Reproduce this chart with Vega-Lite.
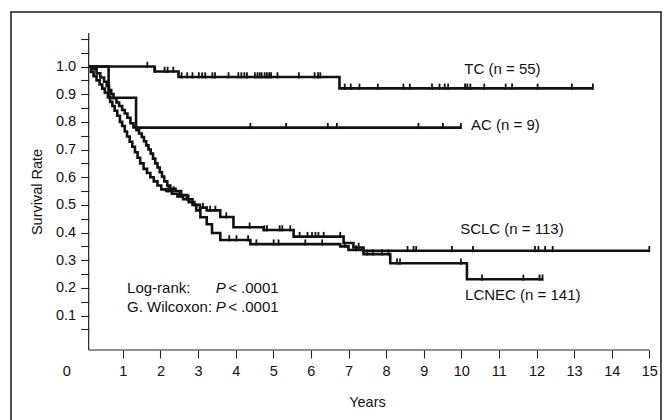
{
  "$schema": "https://vega.github.io/schema/vega-lite/v6.json",
  "width": 650,
  "height": 420,
  "autosize": {"type": "none"},
  "padding": {"left": 11, "top": 12, "right": 8, "bottom": 0},
  "background": "white",
  "config": {
    "view": {"stroke": "#1a1a1a", "strokeWidth": 1.5},
    "font": "Liberation Sans"
  },
  "datasets": {
    "curves": [
      {"group": "TC", "t": 0.1, "s": 1.0},
      {"group": "TC", "t": 1.84, "s": 0.982},
      {"group": "TC", "t": 2.48, "s": 0.962},
      {"group": "TC", "t": 6.76, "s": 0.921},
      {"group": "TC", "t": 13.5, "s": 0.921},
      {"group": "AC", "t": 0.1, "s": 1.0},
      {"group": "AC", "t": 0.62, "s": 0.887},
      {"group": "AC", "t": 1.35, "s": 0.779},
      {"group": "AC", "t": 10.0, "s": 0.779},
      {"group": "SCLC", "t": 0.1, "s": 1.0},
      {"group": "SCLC", "t": 0.15, "s": 0.98},
      {"group": "SCLC", "t": 0.22, "s": 0.965},
      {"group": "SCLC", "t": 0.3, "s": 0.95},
      {"group": "SCLC", "t": 0.38, "s": 0.935},
      {"group": "SCLC", "t": 0.45, "s": 0.92},
      {"group": "SCLC", "t": 0.52, "s": 0.905},
      {"group": "SCLC", "t": 0.6, "s": 0.89},
      {"group": "SCLC", "t": 0.66, "s": 0.872},
      {"group": "SCLC", "t": 0.72, "s": 0.857},
      {"group": "SCLC", "t": 0.78, "s": 0.84},
      {"group": "SCLC", "t": 0.85, "s": 0.822},
      {"group": "SCLC", "t": 0.92, "s": 0.8},
      {"group": "SCLC", "t": 0.98, "s": 0.785},
      {"group": "SCLC", "t": 1.05, "s": 0.765},
      {"group": "SCLC", "t": 1.11, "s": 0.747},
      {"group": "SCLC", "t": 1.18, "s": 0.728},
      {"group": "SCLC", "t": 1.25, "s": 0.71},
      {"group": "SCLC", "t": 1.32, "s": 0.69},
      {"group": "SCLC", "t": 1.39, "s": 0.67},
      {"group": "SCLC", "t": 1.46, "s": 0.65},
      {"group": "SCLC", "t": 1.55, "s": 0.63},
      {"group": "SCLC", "t": 1.64, "s": 0.615},
      {"group": "SCLC", "t": 1.73, "s": 0.6},
      {"group": "SCLC", "t": 1.82, "s": 0.585},
      {"group": "SCLC", "t": 1.92, "s": 0.57},
      {"group": "SCLC", "t": 2.02, "s": 0.556},
      {"group": "SCLC", "t": 2.15, "s": 0.55},
      {"group": "SCLC", "t": 2.3, "s": 0.54},
      {"group": "SCLC", "t": 2.45, "s": 0.53},
      {"group": "SCLC", "t": 2.6, "s": 0.52},
      {"group": "SCLC", "t": 2.75, "s": 0.51},
      {"group": "SCLC", "t": 2.9, "s": 0.5},
      {"group": "SCLC", "t": 3.05, "s": 0.49},
      {"group": "SCLC", "t": 3.23, "s": 0.48},
      {"group": "SCLC", "t": 3.59, "s": 0.456},
      {"group": "SCLC", "t": 3.94, "s": 0.419},
      {"group": "SCLC", "t": 4.74, "s": 0.409},
      {"group": "SCLC", "t": 5.54, "s": 0.385},
      {"group": "SCLC", "t": 6.87, "s": 0.362},
      {"group": "SCLC", "t": 7.13, "s": 0.346},
      {"group": "SCLC", "t": 7.4, "s": 0.334},
      {"group": "SCLC", "t": 15.0, "s": 0.334},
      {"group": "LCNEC", "t": 0.1, "s": 1.0},
      {"group": "LCNEC", "t": 0.2, "s": 0.99},
      {"group": "LCNEC", "t": 0.3, "s": 0.975},
      {"group": "LCNEC", "t": 0.4, "s": 0.96},
      {"group": "LCNEC", "t": 0.5, "s": 0.945},
      {"group": "LCNEC", "t": 0.57, "s": 0.93},
      {"group": "LCNEC", "t": 0.63, "s": 0.915},
      {"group": "LCNEC", "t": 0.69, "s": 0.9},
      {"group": "LCNEC", "t": 0.75, "s": 0.885},
      {"group": "LCNEC", "t": 0.83, "s": 0.87},
      {"group": "LCNEC", "t": 0.9, "s": 0.857},
      {"group": "LCNEC", "t": 0.98, "s": 0.843},
      {"group": "LCNEC", "t": 1.05, "s": 0.83},
      {"group": "LCNEC", "t": 1.12, "s": 0.815},
      {"group": "LCNEC", "t": 1.2, "s": 0.795},
      {"group": "LCNEC", "t": 1.28, "s": 0.78},
      {"group": "LCNEC", "t": 1.36, "s": 0.77},
      {"group": "LCNEC", "t": 1.43, "s": 0.758},
      {"group": "LCNEC", "t": 1.5, "s": 0.745},
      {"group": "LCNEC", "t": 1.56, "s": 0.73},
      {"group": "LCNEC", "t": 1.62, "s": 0.715},
      {"group": "LCNEC", "t": 1.68, "s": 0.7},
      {"group": "LCNEC", "t": 1.74, "s": 0.685},
      {"group": "LCNEC", "t": 1.8, "s": 0.667},
      {"group": "LCNEC", "t": 1.86, "s": 0.65},
      {"group": "LCNEC", "t": 1.92, "s": 0.635},
      {"group": "LCNEC", "t": 1.98, "s": 0.618},
      {"group": "LCNEC", "t": 2.04, "s": 0.602},
      {"group": "LCNEC", "t": 2.1, "s": 0.585},
      {"group": "LCNEC", "t": 2.18, "s": 0.57},
      {"group": "LCNEC", "t": 2.26, "s": 0.558},
      {"group": "LCNEC", "t": 2.4, "s": 0.55},
      {"group": "LCNEC", "t": 2.55, "s": 0.535},
      {"group": "LCNEC", "t": 2.7, "s": 0.52},
      {"group": "LCNEC", "t": 2.85, "s": 0.5},
      {"group": "LCNEC", "t": 2.95, "s": 0.48},
      {"group": "LCNEC", "t": 3.06, "s": 0.455},
      {"group": "LCNEC", "t": 3.23, "s": 0.43},
      {"group": "LCNEC", "t": 3.37, "s": 0.398},
      {"group": "LCNEC", "t": 3.59, "s": 0.373},
      {"group": "LCNEC", "t": 4.39, "s": 0.358},
      {"group": "LCNEC", "t": 6.78, "s": 0.35},
      {"group": "LCNEC", "t": 7.0, "s": 0.337},
      {"group": "LCNEC", "t": 7.4, "s": 0.322},
      {"group": "LCNEC", "t": 8.11, "s": 0.289},
      {"group": "LCNEC", "t": 10.15, "s": 0.231},
      {"group": "LCNEC", "t": 12.18, "s": 0.231}
    ],
    "censors": [
      {"group": "TC", "t": 1.65, "s": 1.0},
      {"group": "TC", "t": 1.86, "s": 0.982},
      {"group": "TC", "t": 2.11, "s": 0.982},
      {"group": "TC", "t": 2.19, "s": 0.982},
      {"group": "TC", "t": 2.34, "s": 0.982},
      {"group": "TC", "t": 2.56, "s": 0.962},
      {"group": "TC", "t": 2.71, "s": 0.962},
      {"group": "TC", "t": 2.85, "s": 0.962},
      {"group": "TC", "t": 3.02, "s": 0.962},
      {"group": "TC", "t": 3.11, "s": 0.962},
      {"group": "TC", "t": 3.19, "s": 0.962},
      {"group": "TC", "t": 3.38, "s": 0.962},
      {"group": "TC", "t": 3.45, "s": 0.962},
      {"group": "TC", "t": 3.81, "s": 0.962},
      {"group": "TC", "t": 4.07, "s": 0.962},
      {"group": "TC", "t": 4.15, "s": 0.962},
      {"group": "TC", "t": 4.23, "s": 0.962},
      {"group": "TC", "t": 4.3, "s": 0.962},
      {"group": "TC", "t": 4.51, "s": 0.962},
      {"group": "TC", "t": 4.58, "s": 0.962},
      {"group": "TC", "t": 4.64, "s": 0.962},
      {"group": "TC", "t": 4.69, "s": 0.962},
      {"group": "TC", "t": 4.77, "s": 0.962},
      {"group": "TC", "t": 4.83, "s": 0.962},
      {"group": "TC", "t": 4.89, "s": 0.962},
      {"group": "TC", "t": 4.94, "s": 0.962},
      {"group": "TC", "t": 5.11, "s": 0.962},
      {"group": "TC", "t": 5.68, "s": 0.962},
      {"group": "TC", "t": 6.1, "s": 0.962},
      {"group": "TC", "t": 6.19, "s": 0.962},
      {"group": "TC", "t": 6.25, "s": 0.962},
      {"group": "TC", "t": 6.9, "s": 0.921},
      {"group": "TC", "t": 7.06, "s": 0.921},
      {"group": "TC", "t": 7.29, "s": 0.921},
      {"group": "TC", "t": 7.78, "s": 0.921},
      {"group": "TC", "t": 8.46, "s": 0.921},
      {"group": "TC", "t": 8.63, "s": 0.921},
      {"group": "TC", "t": 9.22, "s": 0.921},
      {"group": "TC", "t": 9.42, "s": 0.921},
      {"group": "TC", "t": 9.56, "s": 0.921},
      {"group": "TC", "t": 9.65, "s": 0.921},
      {"group": "TC", "t": 10.1, "s": 0.921},
      {"group": "TC", "t": 10.16, "s": 0.921},
      {"group": "TC", "t": 10.24, "s": 0.921},
      {"group": "TC", "t": 10.61, "s": 0.921},
      {"group": "TC", "t": 11.18, "s": 0.921},
      {"group": "TC", "t": 11.35, "s": 0.921},
      {"group": "TC", "t": 12.03, "s": 0.921},
      {"group": "TC", "t": 12.94, "s": 0.921},
      {"group": "TC", "t": 13.5, "s": 0.921},
      {"group": "AC", "t": 4.39, "s": 0.779},
      {"group": "AC", "t": 5.34, "s": 0.779},
      {"group": "AC", "t": 6.45, "s": 0.779},
      {"group": "AC", "t": 6.69, "s": 0.779},
      {"group": "AC", "t": 8.86, "s": 0.779},
      {"group": "AC", "t": 9.51, "s": 0.779},
      {"group": "AC", "t": 9.99, "s": 0.779},
      {"group": "SCLC", "t": 2.2, "s": 0.55},
      {"group": "SCLC", "t": 2.5, "s": 0.53},
      {"group": "SCLC", "t": 3.13, "s": 0.49},
      {"group": "SCLC", "t": 3.32, "s": 0.48},
      {"group": "SCLC", "t": 3.46, "s": 0.48},
      {"group": "SCLC", "t": 3.75, "s": 0.456},
      {"group": "SCLC", "t": 4.37, "s": 0.419},
      {"group": "SCLC", "t": 4.76, "s": 0.409},
      {"group": "SCLC", "t": 4.83, "s": 0.409},
      {"group": "SCLC", "t": 5.17, "s": 0.409},
      {"group": "SCLC", "t": 5.24, "s": 0.409},
      {"group": "SCLC", "t": 5.45, "s": 0.409},
      {"group": "SCLC", "t": 5.7, "s": 0.385},
      {"group": "SCLC", "t": 5.91, "s": 0.385},
      {"group": "SCLC", "t": 6.03, "s": 0.385},
      {"group": "SCLC", "t": 6.12, "s": 0.385},
      {"group": "SCLC", "t": 6.2, "s": 0.385},
      {"group": "SCLC", "t": 6.34, "s": 0.385},
      {"group": "SCLC", "t": 6.78, "s": 0.385},
      {"group": "SCLC", "t": 7.27, "s": 0.346},
      {"group": "SCLC", "t": 8.57, "s": 0.334},
      {"group": "SCLC", "t": 8.73, "s": 0.334},
      {"group": "SCLC", "t": 8.8, "s": 0.334},
      {"group": "SCLC", "t": 9.75, "s": 0.334},
      {"group": "SCLC", "t": 10.31, "s": 0.334},
      {"group": "SCLC", "t": 11.96, "s": 0.334},
      {"group": "SCLC", "t": 12.05, "s": 0.334},
      {"group": "SCLC", "t": 12.23, "s": 0.334},
      {"group": "SCLC", "t": 12.43, "s": 0.334},
      {"group": "SCLC", "t": 15.0, "s": 0.334},
      {"group": "LCNEC", "t": 2.35, "s": 0.55},
      {"group": "LCNEC", "t": 2.75, "s": 0.52},
      {"group": "LCNEC", "t": 3.83, "s": 0.373},
      {"group": "LCNEC", "t": 4.02, "s": 0.373},
      {"group": "LCNEC", "t": 4.33, "s": 0.373},
      {"group": "LCNEC", "t": 4.55, "s": 0.358},
      {"group": "LCNEC", "t": 5.01, "s": 0.358},
      {"group": "LCNEC", "t": 5.14, "s": 0.358},
      {"group": "LCNEC", "t": 5.85, "s": 0.358},
      {"group": "LCNEC", "t": 6.3, "s": 0.358},
      {"group": "LCNEC", "t": 6.9, "s": 0.35},
      {"group": "LCNEC", "t": 7.2, "s": 0.337},
      {"group": "LCNEC", "t": 7.5, "s": 0.322},
      {"group": "LCNEC", "t": 7.65, "s": 0.322},
      {"group": "LCNEC", "t": 7.89, "s": 0.322},
      {"group": "LCNEC", "t": 8.06, "s": 0.322},
      {"group": "LCNEC", "t": 8.29, "s": 0.289},
      {"group": "LCNEC", "t": 8.37, "s": 0.289},
      {"group": "LCNEC", "t": 9.99, "s": 0.289},
      {"group": "LCNEC", "t": 10.55, "s": 0.231},
      {"group": "LCNEC", "t": 11.65, "s": 0.231},
      {"group": "LCNEC", "t": 12.08, "s": 0.231},
      {"group": "LCNEC", "t": 12.16, "s": 0.231}
    ],
    "notes": [
      {"text": "TC (n = 55)", "t": 10.08, "s": 0.99},
      {"text": "AC (n = 9)", "t": 10.26, "s": 0.789},
      {"text": "SCLC (n = 113)", "t": 9.97, "s": 0.412},
      {"text": "LCNEC (n = 141)", "t": 10.1, "s": 0.174},
      {"text": "Log-rank:", "t": 1.11, "s": 0.198},
      {"text": "G. Wilcoxon:", "t": 1.11, "s": 0.132},
      {"text": "< .0001", "t": 3.8, "s": 0.198},
      {"text": "< .0001", "t": 3.8, "s": 0.132}
    ],
    "pnotes": [
      {"text": "P", "t": 3.47, "s": 0.198},
      {"text": "P", "t": 3.47, "s": 0.132}
    ]
  },
  "resolve": {"axis": {"y": "independent"}},
  "layer": [
    {
      "data": {"name": "curves"},
      "mark": {"type": "line", "interpolate": "step-after", "color": "#111", "strokeWidth": 2.6},
      "encoding": {
        "x": {
          "field": "t", "type": "quantitative",
          "scale": {"domain": [-1.976, 15.311], "nice": false, "zero": false},
          "axis": {
            "title": "Years",
            "values": [0, 0.5, 1, 1.5, 2, 2.5, 3, 3.5, 4, 4.5, 5, 5.5, 6, 6.5, 7, 7.5, 8, 8.5, 9, 9.5, 10, 10.5, 11, 11.5, 12, 12.5, 13, 13.5, 14, 14.5, 15],
            "domain": false, "grid": false, "offset": -82,
            "tickSize": 8, "tickColor": "#222", "tickWidth": 1.1,
            "tickOpacity": {"condition": {"test": "datum.value == 0", "value": 0}, "value": 1},
            "labelOffset": {"condition": {"test": "datum.value == 0", "value": -19}, "value": 0},
            "labelExpr": "datum.value % 1 == 0 ? format(datum.value, 'd') : ''",
            "labelFontSize": 14.5, "labelColor": "#111", "labelPadding": 6,
            "labelOverlap": false,
            "titleFontSize": 14.5, "titleFontWeight": "normal", "titleColor": "#111",
            "titleX": 356, "titleY": 56, "titleAlign": "center", "titleBaseline": "alphabetic"
          }
        },
        "y": {
          "field": "s", "type": "quantitative",
          "scale": {"domain": [-0.321, 1.197], "nice": false, "zero": false},
          "axis": {
            "orient": "left",
            "title": "Survival Rate",
            "values": [0.1, 0.2, 0.3, 0.4, 0.5, 0.6, 0.7, 0.8, 0.9, 1.0],
            "domain": false, "grid": false, "offset": -77.7,
            "tickSize": 8, "tickColor": "#222", "tickWidth": 1.1,
            "format": ".1f",
            "labelFontSize": 14.5, "labelColor": "#111", "labelPadding": 5,
            "labelOverlap": false,
            "titleFontSize": 14.5, "titleFontWeight": "normal", "titleColor": "#111",
            "titleX": -47.3, "titleY": 179.5, "titleAngle": -90, "titleAlign": "center", "titleBaseline": "alphabetic"
          }
        },
        "detail": {"field": "group"}
      }
    },
    {
      "data": {"name": "censors"},
      "mark": {"type": "point", "shape": "M0,0.3V-1", "filled": false, "stroke": "#111", "strokeWidth": 1.8, "size": 90, "opacity": 1},
      "encoding": {
        "x": {"field": "t", "type": "quantitative"},
        "y": {
          "field": "s", "type": "quantitative",
          "axis": {
            "orient": "left",
            "title": null,
            "values": [0.05, 0.15, 0.25, 0.35, 0.45, 0.55, 0.65, 0.75, 0.85, 0.95, 1.05, 1.1],
            "domain": false, "grid": false, "offset": -77.7, "labels": false,
            "tickSize": 8, "tickColor": "#222", "tickWidth": 1.1
          }
        }
      }
    },
    {
      "data": {"values": [{}]},
      "mark": {"type": "rule", "color": "#222", "strokeWidth": 1.2},
      "encoding": {
        "x": {"datum": 0.09, "type": "quantitative"},
        "x2": {"datum": 15.0},
        "y": {"datum": -0.0247, "type": "quantitative", "axis": null},
        "y2": {"datum": -0.0247}
      }
    },
    {
      "data": {"values": [{}]},
      "mark": {"type": "rule", "color": "#222", "strokeWidth": 1.2},
      "encoding": {
        "x": {"datum": 0.09, "type": "quantitative"},
        "y": {"datum": -0.0247, "type": "quantitative", "axis": null},
        "y2": {"datum": 1.121}
      }
    },
    {
      "data": {"name": "notes"},
      "mark": {"type": "text", "align": "left", "baseline": "middle", "fontSize": 15, "color": "#111"},
      "encoding": {
        "x": {"field": "t", "type": "quantitative"},
        "y": {"field": "s", "type": "quantitative", "axis": null},
        "text": {"field": "text"}
      }
    },
    {
      "data": {"name": "pnotes"},
      "mark": {"type": "text", "align": "left", "baseline": "middle", "fontSize": 15, "fontStyle": "italic", "color": "#111"},
      "encoding": {
        "x": {"field": "t", "type": "quantitative"},
        "y": {"field": "s", "type": "quantitative", "axis": null},
        "text": {"field": "text"}
      }
    }
  ]
}
